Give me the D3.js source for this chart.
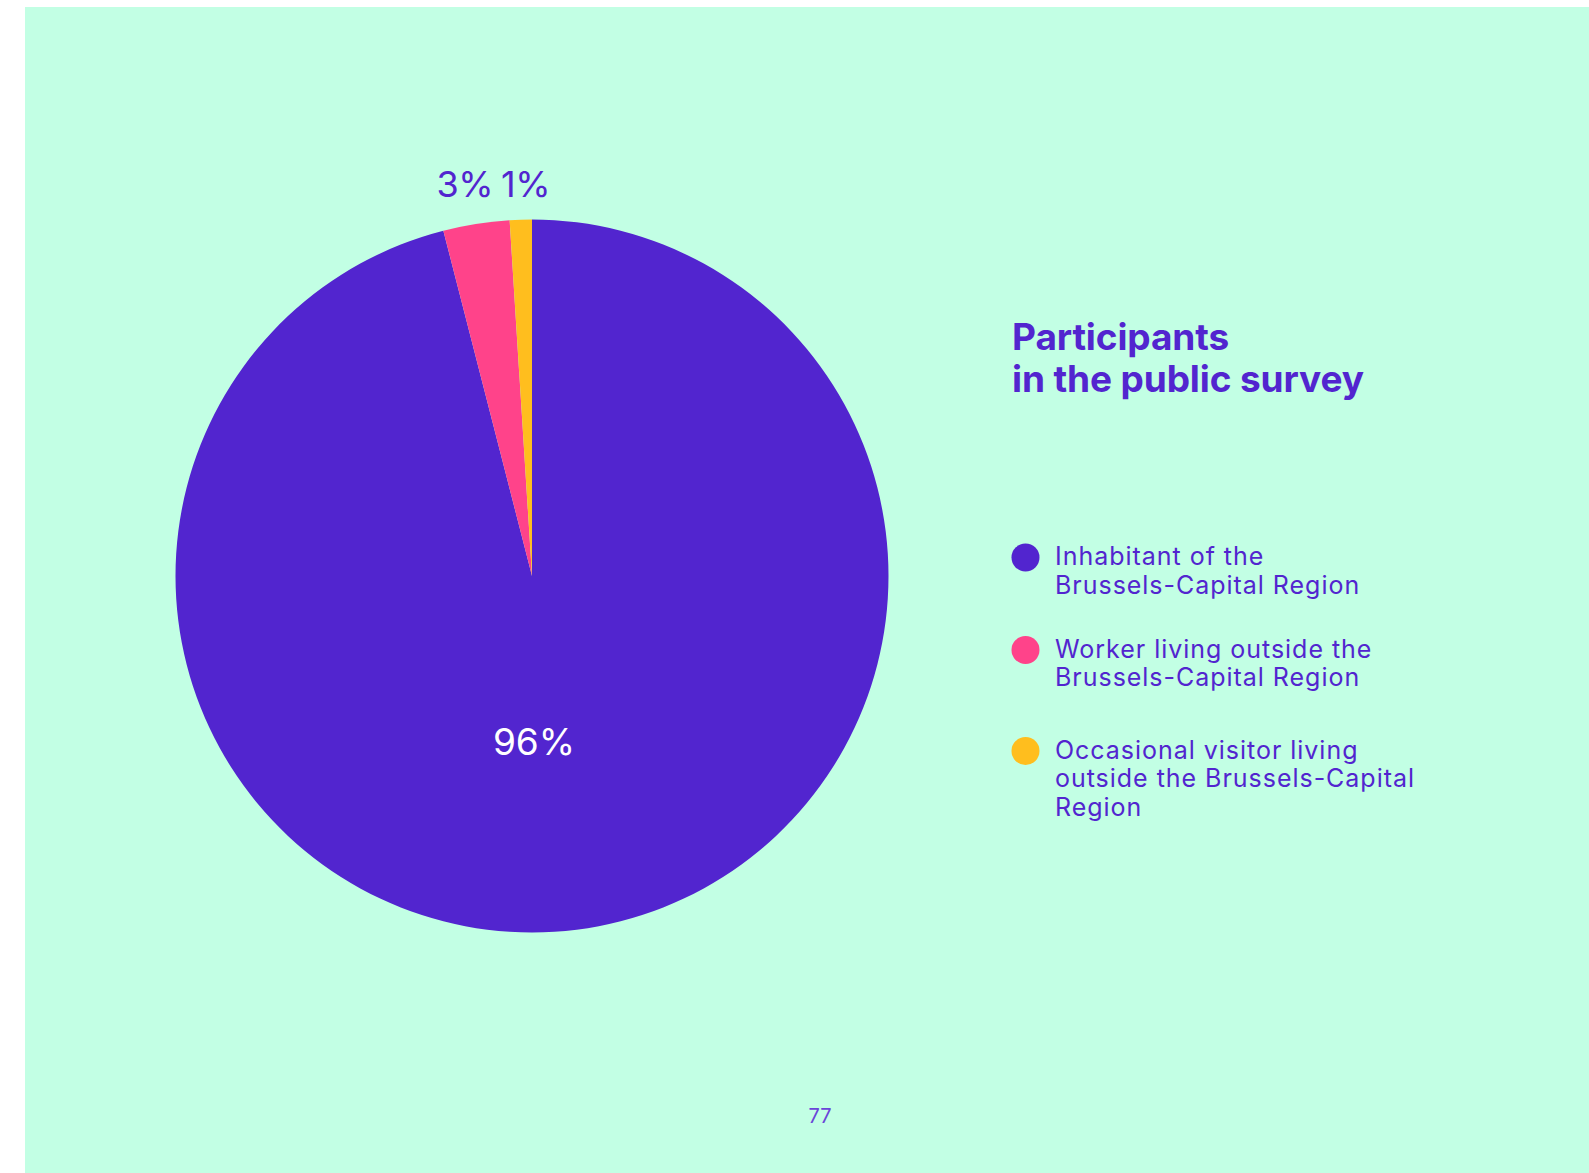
<!DOCTYPE html>
<html>
<head>
<meta charset="utf-8">
<script src="https://cdn.jsdelivr.net/npm/d3@7"></script>
<style>
  html, body { margin: 0; padding: 0; background: #ffffff; }
  svg { display: block; }
  text { font-family: "Inter", "Noto Sans", sans-serif; }
</style>
</head>
<body>
<svg id="chart" width="1589" height="1173"></svg>
<script>
const categories = [
  "Inhabitant of the\nBrussels-Capital Region",
  "Worker living outside the\nBrussels-Capital Region",
  "Occasional visitor living\noutside the Brussels-Capital\nRegion"
];
const values = [96, 3, 1];
const valueLabels = ["96%", "3%", "1%"];
const colors = ["#5225CF", "#FF438A", "#FFBE1E"];
const titleLines = ["Participants", "in the public survey"];
const pageNumber = "77";

const svg = d3.select("#chart");
const W = 1589, H = 1173;
const textColor = "#5225CF";

function fitSpacing(sel, target) {
  const node = sel.node();
  const n = node.textContent.length;
  const w = node.getComputedTextLength();
  return (target - w) / Math.max(1, n - 1);
}

svg.append("rect").attr("x", 25).attr("y", 7).attr("width", W - 25).attr("height", H - 7).attr("fill", "#C2FFE4");

const cx = 532, cy = 576, R = 356.5;
const pie = d3.pie().sort(null).value(d => d)(values);
const arc = d3.arc().innerRadius(0).outerRadius(R);
const g = svg.append("g").attr("transform", `translate(${cx},${cy})`);
g.selectAll("path").data(pie).join("path")
  .attr("d", arc)
  .attr("fill", (d, i) => colors[i]);

// labels
g.append("text").attr("x", 2).attr("y", 179).attr("text-anchor", "middle")
  .attr("font-size", 37).attr("fill", "#ffffff").text(valueLabels[0]);
g.append("text").attr("x", 493 - cx).attr("y", 197 - cy).attr("text-anchor", "end")
  .attr("font-size", 36).attr("letter-spacing", -0.5).attr("fill", textColor).text(valueLabels[1]);
g.append("text").attr("x", 501 - cx).attr("y", 197 - cy).attr("text-anchor", "start")
  .attr("font-size", 36).attr("letter-spacing", -0.5).attr("fill", textColor).text(valueLabels[2]);

// title
const tSel = titleLines.map((t, i) =>
  svg.append("text").attr("x", 1012).attr("y", 350 + i * 42)
    .attr("font-size", 37).attr("font-weight", 700).attr("fill", textColor).text(t));
const tls = fitSpacing(tSel[1], 352);
tSel.forEach(s => s.attr("letter-spacing", tls));

// legend
const legendY = [557.5, 650, 751];
const legSel = [];
categories.forEach((c, i) => {
  svg.append("circle").attr("cx", 1025.5).attr("cy", legendY[i]).attr("r", 14).attr("fill", colors[i]);
  c.split("\n").forEach((line, j) => {
    legSel.push(svg.append("text").attr("x", 1055).attr("y", legendY[i] + 7.5 + j * 28.5)
      .attr("font-size", 25).attr("fill", textColor).text(line));
  });
});
const longest = legSel.find(s => s.text() === "outside the Brussels-Capital");
const lls = fitSpacing(longest, 359);
legSel.forEach(s => s.attr("letter-spacing", lls));

svg.append("text").attr("x", 820).attr("y", 1123).attr("text-anchor", "middle")
  .attr("font-size", 20).attr("fill", "#6A45D8").text(pageNumber);
</script>
</body>
</html>
